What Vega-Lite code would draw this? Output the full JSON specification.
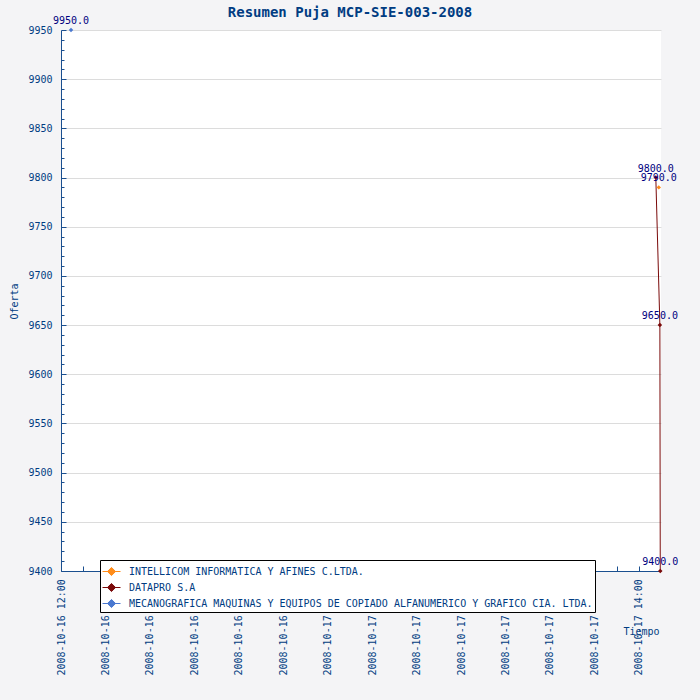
{
  "$schema": "https://vega.github.io/schema/vega-lite/v6.json",
  "autosize": {"type": "none"},
  "width": 600,
  "height": 541,
  "padding": {"left": 61, "top": 30, "right": 39, "bottom": 129},
  "background": "#f4f4f6",
  "title": {
    "text": "Resumen Puja MCP-SIE-003-2008",
    "font": "DejaVu Sans Mono",
    "fontSize": 14,
    "fontWeight": "bold",
    "color": "#003c82",
    "anchor": "middle",
    "offset": 10,
    "dx": -11,
    "dy": 14
  },
  "config": {
    "view": {"fill": "white", "stroke": null},
    "axis": {
      "domainColor": "#1a4f8f",
      "tickColor": "#1a4f8f",
      "labelColor": "#003c82",
      "labelFont": "DejaVu Sans Mono",
      "labelFontSize": 10,
      "titleFont": "DejaVu Sans Mono",
      "titleFontSize": 10,
      "titleFontWeight": "normal",
      "titleColor": "#003c82"
    }
  },
  "data": {
    "values": [
      {"postor": "INTELLICOM INFORMATICA Y AFINES C.LTDA.", "tiempo": "2008-10-17T14:54:00", "oferta": 9790},
      {"postor": "DATAPRO S.A", "tiempo": "2008-10-17T14:46:00", "oferta": 9800},
      {"postor": "DATAPRO S.A", "tiempo": "2008-10-17T14:57:00", "oferta": 9650},
      {"postor": "DATAPRO S.A", "tiempo": "2008-10-17T14:58:00", "oferta": 9400},
      {"postor": "MECANOGRAFICA MAQUINAS Y EQUIPOS DE COPIADO ALFANUMERICO Y GRAFICO CIA. LTDA.", "tiempo": "2008-10-16T12:27:00", "oferta": 9950}
    ]
  },
  "encoding": {
    "x": {
      "field": "tiempo",
      "type": "temporal",
      "title": "Tiempo",
      "scale": {
        "domain": [
          {"year": 2008, "month": 10, "date": 16, "hours": 12},
          {"year": 2008, "month": 10, "date": 17, "hours": 15}
        ],
        "nice": false
      },
      "axis": {
        "grid": false,
        "values": [
          {"year": 2008, "month": 10, "date": 16, "hours": 12},
          {"year": 2008, "month": 10, "date": 16, "hours": 13},
          {"year": 2008, "month": 10, "date": 16, "hours": 14},
          {"year": 2008, "month": 10, "date": 16, "hours": 15},
          {"year": 2008, "month": 10, "date": 16, "hours": 16},
          {"year": 2008, "month": 10, "date": 16, "hours": 17},
          {"year": 2008, "month": 10, "date": 16, "hours": 18},
          {"year": 2008, "month": 10, "date": 16, "hours": 19},
          {"year": 2008, "month": 10, "date": 16, "hours": 20},
          {"year": 2008, "month": 10, "date": 16, "hours": 21},
          {"year": 2008, "month": 10, "date": 16, "hours": 22},
          {"year": 2008, "month": 10, "date": 16, "hours": 23},
          {"year": 2008, "month": 10, "date": 17, "hours": 0},
          {"year": 2008, "month": 10, "date": 17, "hours": 1},
          {"year": 2008, "month": 10, "date": 17, "hours": 2},
          {"year": 2008, "month": 10, "date": 17, "hours": 3},
          {"year": 2008, "month": 10, "date": 17, "hours": 4},
          {"year": 2008, "month": 10, "date": 17, "hours": 5},
          {"year": 2008, "month": 10, "date": 17, "hours": 6},
          {"year": 2008, "month": 10, "date": 17, "hours": 7},
          {"year": 2008, "month": 10, "date": 17, "hours": 8},
          {"year": 2008, "month": 10, "date": 17, "hours": 9},
          {"year": 2008, "month": 10, "date": 17, "hours": 10},
          {"year": 2008, "month": 10, "date": 17, "hours": 11},
          {"year": 2008, "month": 10, "date": 17, "hours": 12},
          {"year": 2008, "month": 10, "date": 17, "hours": 13},
          {"year": 2008, "month": 10, "date": 17, "hours": 14}
        ],
        "labelExpr": "hours(datum.value) % 2 == 1 ? '' : ((date(datum.value) == 16 && hours(datum.value) == 12) || (date(datum.value) == 17 && hours(datum.value) == 14)) ? timeFormat(datum.value, '%Y-%m-%d %H:%M') : timeFormat(datum.value, '%Y-%m-%d')",
        "labelAngle": -90,
        "labelAlign": "left",
        "labelBaseline": "middle",
        "labelPadding": 109,
        "labelOverlap": false,
        "labelBound": false,
        "labelFlush": false,
        "tickSize": -5,
        "titleX": 580,
        "titleY": 60,
        "titleAlign": "center",
        "titleBaseline": "middle",
        "titleAngle": 0
      }
    },
    "y": {
      "field": "oferta",
      "type": "quantitative",
      "title": "Oferta",
      "scale": {"domain": [9400, 9950], "nice": false, "zero": false},
      "axis": {
        "values": [9400,9410,9420,9430,9440,9450,9460,9470,9480,9490,9500,9510,9520,9530,9540,9550,9560,9570,9580,9590,9600,9610,9620,9630,9640,9650,9660,9670,9680,9690,9700,9710,9720,9730,9740,9750,9760,9770,9780,9790,9800,9810,9820,9830,9840,9850,9860,9870,9880,9890,9900,9910,9920,9930,9940,9950],
        "format": "d",
        "labelExpr": "datum.value % 50 == 0 ? datum.label : ''",
        "labelOverlap": false,
        "labelBound": false,
        "labelFlush": false,
        "labelPadding": 14,
        "tickSize": {"condition": {"test": "datum.value % 50 == 0", "value": -5}, "value": -3},
        "grid": true,
        "gridColor": "#dcdcdc",
        "gridOpacity": {"condition": {"test": "datum.value % 50 == 0", "value": 1}, "value": 0},
        "titleX": -47,
        "titleY": 271,
        "titleAlign": "center",
        "titleBaseline": "middle",
        "titleAngle": 270
      }
    }
  },
  "layer": [
    {
      "mark": {"type": "line", "strokeWidth": 1},
      "encoding": {
        "color": {
          "field": "postor",
          "type": "nominal",
          "scale": {
            "domain": [
              "INTELLICOM INFORMATICA Y AFINES C.LTDA.",
              "DATAPRO S.A",
              "MECANOGRAFICA MAQUINAS Y EQUIPOS DE COPIADO ALFANUMERICO Y GRAFICO CIA. LTDA."
            ],
            "range": ["#ff8c1a", "#7a0a0a", "#4a78d0"]
          },
          "legend": {
            "title": null,
            "orient": "none",
            "legendX": 39,
            "legendY": 530,
            "fillColor": "white",
            "strokeColor": "black",
            "padding": 2,
            "labelFont": "DejaVu Sans Mono",
            "labelFontSize": 10,
            "labelColor": "#003c82",
            "labelLimit": 0,
            "labelOffset": 8,
            "rowPadding": 0,
            "symbolType": "M-1,0L1,0M0,-0.45L0.45,0L0,0.45L-0.45,0Z",
            "symbolSize": 324,
            "symbolStrokeWidth": 1,
            "encode": {
              "symbols": {
                "update": {
                  "fill": {"scale": "color", "field": "value"},
                  "stroke": {"scale": "color", "field": "value"},
                  "size": {"value": 324},
                  "opacity": {"value": 1}
                }
              }
            }
          }
        },
        "order": {"field": "tiempo", "type": "temporal"}
      }
    },
    {
      "mark": {"type": "point", "shape": "diamond", "filled": true, "size": 20, "opacity": 1},
      "encoding": {
        "color": {"field": "postor", "type": "nominal"}
      }
    },
    {
      "mark": {"type": "text", "font": "DejaVu Sans Mono", "fontSize": 10, "color": "#000080", "align": "center", "baseline": "bottom", "dy": -4},
      "encoding": {
        "text": {"field": "oferta", "type": "quantitative", "format": ".1f"}
      }
    }
  ]
}
